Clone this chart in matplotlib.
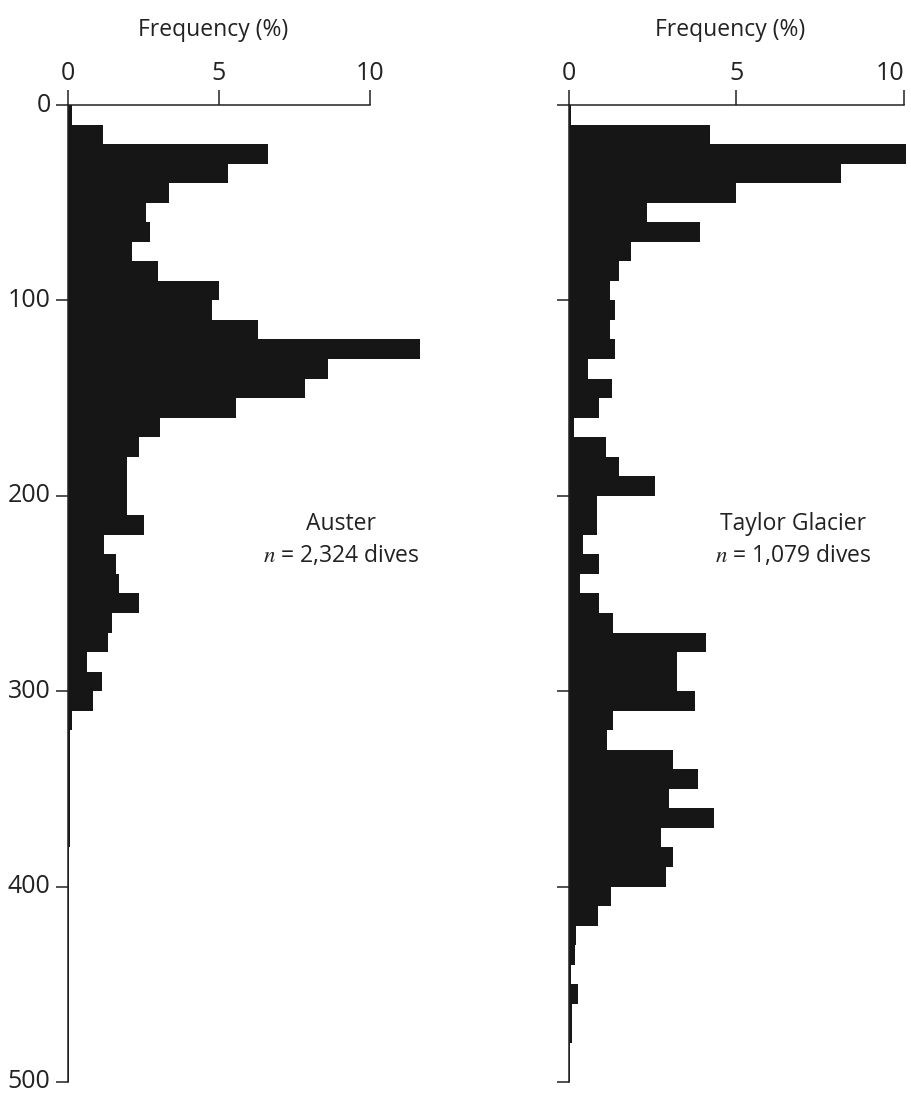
import numpy as np
import matplotlib
matplotlib.use('Agg')
import matplotlib.pyplot as plt

plt.rcParams['font.family'] = ['Open Sans', 'DejaVu Sans']
plt.rcParams['mathtext.fontset'] = 'stix'

# depth bins (m), 10 m wide
depth = np.arange(0, 500, 10)

# frequency (%) per depth bin
auster = [0.15, 1.15, 6.63, 5.31, 3.35, 2.58, 2.72, 2.11, 2.99, 5.0,
          4.76, 6.28, 11.66, 8.6, 7.85, 5.55, 3.05, 2.35, 1.94, 1.94,
          1.94, 2.52, 1.2, 1.59, 1.7, 2.36, 1.45, 1.34, 0.62, 1.14,
          0.84, 0.13, 0.08, 0.08, 0.08, 0.08, 0.08, 0.08, 0.03, 0.03,
          0.03, 0.03, 0.03, 0.03, 0.03, 0.03, 0.03, 0.03, 0.03, 0.03]
taylor = [0.05, 4.2, 10.06, 8.13, 4.99, 2.32, 3.9, 1.86, 1.48, 1.21,
          1.38, 1.21, 1.38, 0.56, 1.28, 0.9, 0.15, 1.1, 1.5, 2.57,
          0.83, 0.83, 0.43, 0.9, 0.33, 0.9, 1.3, 4.09, 3.22, 3.22,
          3.77, 1.3, 1.13, 3.1, 3.85, 3.0, 4.32, 2.74, 3.1, 2.91,
          1.25, 0.88, 0.21, 0.18, 0.05, 0.28, 0.08, 0.08, 0.03, 0.03]

yticks = [0, 100, 200, 300, 400, 500]
xticks = [0, 5, 10]

fig = plt.figure(figsize=(9.11, 10.95), dpi=100)
ax1 = fig.add_axes([0.0746, 0.0119, 0.3978, 0.8922])
ax2 = fig.add_axes([0.6246, 0.0119, 0.375, 0.8922])

panels = [(ax1, auster, 12.0, True, 'Auster', '$n$ = 2,324 dives', 9.04),
          (ax2, taylor, 10.2, False, 'Taylor Glacier', '$n$ = 1,079 dives', 6.7)]

for ax, vals, xmax, ylabels, name, ntext, tx in panels:
    ax.barh(depth, vals, height=10, align='edge', color='#161616', linewidth=0)
    ax.set_xlim(0, xmax)
    ax.set_ylim(500, 0)
    ax.xaxis.tick_top()
    ax.xaxis.set_label_position('top')
    ax.set_xticks(xticks)
    ax.set_yticks(yticks)
    if not ylabels:
        ax.set_yticklabels([])
    else:
        for lab in ax.get_yticklabels():
            lab.set_va('center')
    ax.set_xlabel('Frequency (%)', fontsize=16.5, color='#222222', labelpad=18)
    ax.xaxis.label.set_x(4.8 / xmax)
    for s in ['right', 'bottom']:
        ax.spines[s].set_visible(False)
    ax.spines['top'].set_bounds(0, 10)
    ax.spines['left'].set_bounds(0, 500)
    for s in ['top', 'left']:
        ax.spines[s].set_linewidth(1.1)
        ax.spines[s].set_color('#222222')
    ax.tick_params(axis='x', length=11, width=1.1, pad=3, labelsize=18,
                   colors='#222222')
    ax.tick_params(axis='y', length=8.5, width=1.1, pad=4, labelsize=18,
                   colors='#222222')
    ax.patch.set_visible(False)
    ax.text(tx, 217.7, name, ha='center', va='baseline', fontsize=16.5, color='#222222')
    ax.text(tx, 233.7, ntext, ha='center', va='baseline', fontsize=16.5, color='#222222')

ax2.get_xticklabels()[2].set_ha('right')

plt.savefig('out.png', dpi=100)
